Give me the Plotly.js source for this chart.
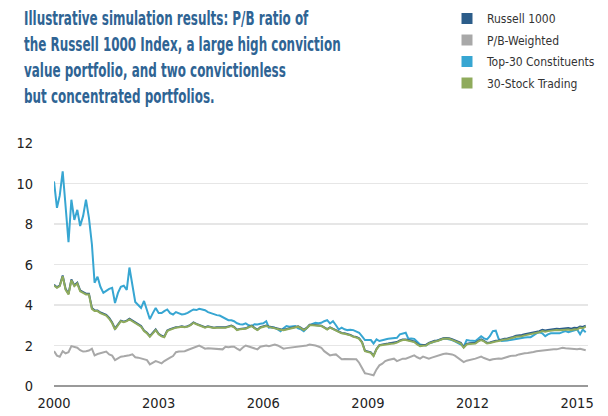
<!DOCTYPE html>
<html>
<head>
<meta charset="utf-8">
<script src="https://cdn.plot.ly/plotly-3.0.1.min.js"></script>
<style>
html,body{margin:0;padding:0;background:#fff}
#chart{width:608px;height:416px}
.gtitle{transform-box:fill-box;transform-origin:0 0;transform:scaleX(0.665)}
</style>
</head>
<body>
<div id="chart"></div>
<script>
// Monthly observations, Jan 2000 .. Apr 2015
const startYear = 2000, nMonths = 184;
const seriesNames = ["Russell 1000", "P/B-Weighted", "Top-30 Constituents", "30-Stock Trading"];
const yTicks = [0, 2, 4, 6, 8, 10, 12];
const xTickYears = ["2000", "2003", "2006", "2009", "2012", "2015"];

const top30 = [
 10.1,8.8,9.4,10.6,8.9,7.1,9.2,8.2,8.7,7.9,8.4,9.2,
 8.3,7.0,5.1,5.4,4.9,4.6,4.7,4.8,4.85,4.1,4.6,4.9,
 4.95,4.75,5.85,4.9,4.15,4.0,3.85,4.2,3.7,3.3,3.6,3.85,
 3.6,3.6,3.7,3.78,3.6,3.53,3.65,3.6,3.53,3.56,3.61,3.7,
 3.78,3.75,3.81,3.78,3.74,3.65,3.6,3.53,3.5,3.48,3.4,3.29,
 3.25,3.25,3.2,3.1,3.05,3.04,3.09,3.0,2.96,3.05,3.04,3.07,
 3.1,3.2,2.88,2.9,2.88,2.8,2.71,2.85,2.96,2.93,2.95,2.96,
 2.85,2.8,2.71,2.85,3.0,3.07,3.12,3.1,3.12,3.2,3.25,3.09,
 3.2,3.0,2.79,2.88,2.8,2.76,2.78,2.76,2.7,2.63,2.45,2.27,
 2.27,2.27,2.1,2.3,2.22,2.28,2.3,2.33,2.35,2.36,2.38,2.55,
 2.6,2.63,2.33,2.35,2.33,2.2,2.05,2.03,2.0,2.1,2.17,2.2,
 2.25,2.3,2.33,2.33,2.3,2.27,2.2,2.14,2.05,1.94,2.27,2.25,
 2.22,2.22,2.33,2.46,2.35,2.3,2.46,2.71,2.73,2.33,2.22,2.25,
 2.25,2.27,2.3,2.33,2.36,2.38,2.4,2.41,2.41,2.5,2.6,2.65,
 2.6,2.46,2.55,2.6,2.6,2.6,2.6,2.66,2.71,2.66,2.7,2.75,
 2.79,2.55,2.79,2.66
];

const stock30 = [
 4.96,4.85,4.93,5.42,4.76,4.52,5.22,4.93,5.06,4.68,4.6,4.52,
 4.52,3.81,3.7,3.7,3.6,3.53,3.48,3.32,3.1,2.79,3.0,3.2,
 3.15,3.2,3.29,3.2,3.09,3.04,2.93,2.71,2.6,2.43,2.6,2.76,
 2.55,2.45,2.41,2.71,2.78,2.84,2.88,2.9,2.93,2.9,2.93,3.0,
 3.12,3.05,2.99,2.92,2.88,2.93,2.9,2.86,2.88,2.88,2.85,2.88,
 2.92,2.96,2.9,2.76,2.8,2.8,2.83,2.9,2.96,2.85,2.76,2.88,
 2.92,2.96,2.92,2.88,2.84,2.79,2.78,2.76,2.8,2.84,2.88,2.9,
 2.93,2.85,2.76,2.85,3.0,3.0,2.99,2.97,2.96,2.88,2.79,2.88,
 2.8,2.72,2.66,2.6,2.58,2.55,2.5,2.43,2.4,2.33,2.14,1.72,
 1.68,1.64,1.48,1.81,2.0,2.03,2.05,2.07,2.09,2.1,2.14,2.22,
 2.27,2.27,2.25,2.22,2.17,2.05,1.97,1.99,2.0,2.1,2.17,2.2,
 2.22,2.28,2.33,2.34,2.33,2.28,2.22,2.15,2.1,1.89,2.05,2.08,
 2.1,2.1,2.2,2.27,2.2,2.1,2.12,2.18,2.2,2.22,2.27,2.3,
 2.31,2.33,2.38,2.43,2.44,2.46,2.5,2.53,2.55,2.57,2.6,2.65,
 2.71,2.68,2.71,2.73,2.74,2.76,2.75,2.76,2.78,2.79,2.76,2.8,
 2.79,2.88,2.85,2.93
];

const russell = [
 5.0,4.88,4.96,5.46,4.8,4.55,5.26,4.97,5.1,4.72,4.64,4.56,
 4.56,3.85,3.74,3.73,3.63,3.56,3.51,3.36,3.14,2.83,3.03,3.23,
 3.18,3.23,3.32,3.23,3.12,3.07,2.96,2.74,2.63,2.46,2.63,2.79,
 2.58,2.48,2.44,2.74,2.81,2.87,2.9,2.92,2.95,2.92,2.95,3.02,
 3.14,3.07,3.01,2.94,2.9,2.95,2.92,2.88,2.9,2.9,2.87,2.9,
 2.94,2.98,2.92,2.78,2.82,2.82,2.85,2.92,2.98,2.87,2.78,2.9,
 2.94,2.98,2.94,2.9,2.86,2.81,2.8,2.78,2.82,2.86,2.9,2.92,
 2.95,2.87,2.78,2.87,3.02,3.02,3.01,2.99,2.98,2.9,2.81,2.9,
 2.82,2.74,2.68,2.62,2.6,2.57,2.52,2.45,2.42,2.35,2.16,1.74,
 1.7,1.66,1.5,1.83,2.02,2.06,2.08,2.1,2.12,2.13,2.17,2.25,
 2.3,2.3,2.28,2.25,2.2,2.08,2.0,2.02,2.03,2.13,2.2,2.23,
 2.25,2.31,2.36,2.37,2.36,2.31,2.25,2.18,2.13,1.92,2.08,2.11,
 2.13,2.13,2.23,2.3,2.23,2.13,2.15,2.21,2.23,2.25,2.3,2.34,
 2.35,2.37,2.42,2.48,2.49,2.52,2.56,2.59,2.61,2.63,2.66,2.71,
 2.77,2.74,2.77,2.8,2.81,2.83,2.82,2.83,2.85,2.86,2.83,2.87,
 2.86,2.94,2.92,2.98
];

const pbWeighted = [
 1.72,1.5,1.45,1.72,1.61,1.67,1.97,1.92,1.89,1.77,1.7,1.72,
 1.75,1.84,1.51,1.58,1.62,1.64,1.7,1.56,1.5,1.28,1.38,1.45,
 1.47,1.48,1.52,1.56,1.42,1.4,1.35,1.32,1.28,1.07,1.15,1.23,
 1.18,1.12,1.23,1.3,1.4,1.48,1.67,1.7,1.72,1.72,1.78,1.84,
 1.9,1.95,2.0,1.92,1.84,1.86,1.85,1.84,1.82,1.84,1.81,1.94,
 1.92,1.94,1.94,1.85,1.77,1.9,2.0,1.95,1.89,1.85,1.81,1.94,
 1.96,2.0,1.97,2.0,2.05,2.0,1.92,1.84,1.87,1.89,1.9,1.93,
 1.94,1.95,1.97,2.0,2.05,2.03,2.0,1.95,1.89,1.72,1.6,1.51,
 1.54,1.56,1.45,1.32,1.33,1.32,1.32,1.33,1.32,1.15,0.91,0.63,
 0.6,0.58,0.53,0.82,1.02,1.1,1.23,1.28,1.3,1.35,1.23,1.28,
 1.35,1.35,1.4,1.45,1.51,1.42,1.35,1.45,1.4,1.35,1.4,1.45,
 1.5,1.56,1.58,1.61,1.6,1.56,1.5,1.4,1.3,1.18,1.25,1.28,
 1.3,1.35,1.4,1.45,1.38,1.32,1.28,1.32,1.35,1.36,1.35,1.4,
 1.44,1.48,1.5,1.51,1.56,1.61,1.62,1.63,1.64,1.68,1.72,1.74,
 1.77,1.79,1.81,1.8,1.82,1.81,1.85,1.89,1.86,1.84,1.83,1.82,
 1.81,1.84,1.8,1.77
];

const months = [];
for (let i = 0; i < nMonths; i++) {
  const y = startYear + Math.floor(i / 12), m = (i % 12) + 1;
  months.push(y + "-" + String(m).padStart(2, "0") + "-01");
}

const colors = ["#2c5d8a", "#a8a8a8", "#37a6d2", "#8fab5c"];
const FONT = "'DejaVu Sans Condensed', 'DejaVu Sans', sans-serif";

function line(y, idx) {
  return {type: "scatter", mode: "lines", x: months, y: y, name: seriesNames[idx],
    line: {color: colors[idx], width: 2}, showlegend: false, hoverinfo: "skip"};
}
function legendItem(idx) {
  return {type: "scatter", mode: "markers", x: [null], y: [null], name: seriesNames[idx],
    legendgroup: "g" + idx,
    marker: {symbol: "square", size: 11, color: colors[idx]}, showlegend: true};
}

const data = [
  line(pbWeighted, 1), line(top30, 2), line(russell, 0), line(stock30, 3),
  legendItem(0), legendItem(1), legendItem(2), legendItem(3)
];

const layout = {
  width: 608, height: 416,
  paper_bgcolor: "#fff", plot_bgcolor: "#fff",
  margin: {l: 54, r: 20, t: 143, b: 30, autoexpand: false},
  font: {family: FONT, color: "#222"},
  title: {
    text: "<b>Illustrative simulation results: P/B ratio of<br>the Russell 1000 Index, a large high conviction<br>value portfolio, and two convictionless<br>but concentrated portfolios.</b>",
    font: {family: FONT, size: 20, color: "#2f6494"},
    x: 24 / 608, xanchor: "left", xref: "container",
    y: 1 - 25 / 416, yanchor: "top", yref: "container", align: "left"
  },
  legend: {
    x: 447 / 608, xanchor: "left", xref: "container",
    y: 1 - 4 / 416, yanchor: "top", yref: "container",
    font: {family: FONT, size: 12, color: "#333"},
    itemwidth: 30, tracegroupgap: 2.5, bgcolor: "rgba(0,0,0,0)"
  },
  xaxis: {
    type: "date", range: ["2000-01-01", "2015-04-25"],
    tickvals: xTickYears.map(y => y + "-01-01"), ticktext: xTickYears,
    showgrid: false, zeroline: false, showline: false, ticks: "",
    ticklabelstandoff: 6,
    tickfont: {family: FONT, size: 14.5, color: "#222"}
  },
  yaxis: {
    range: [0, 12], tickvals: yTicks, ticktext: yTicks.map(String),
    showgrid: true, gridcolor: "#e6e6e6", gridwidth: 1.5,
    zeroline: true, zerolinecolor: "#999", zerolinewidth: 1.5,
    showline: false, ticks: "", ticklabelstandoff: 20,
    tickfont: {family: FONT, size: 14.5, color: "#222"}
  }
};

Plotly.newPlot("chart", data, layout, {displayModeBar: false, staticPlot: true});
</script>
</body>
</html>
